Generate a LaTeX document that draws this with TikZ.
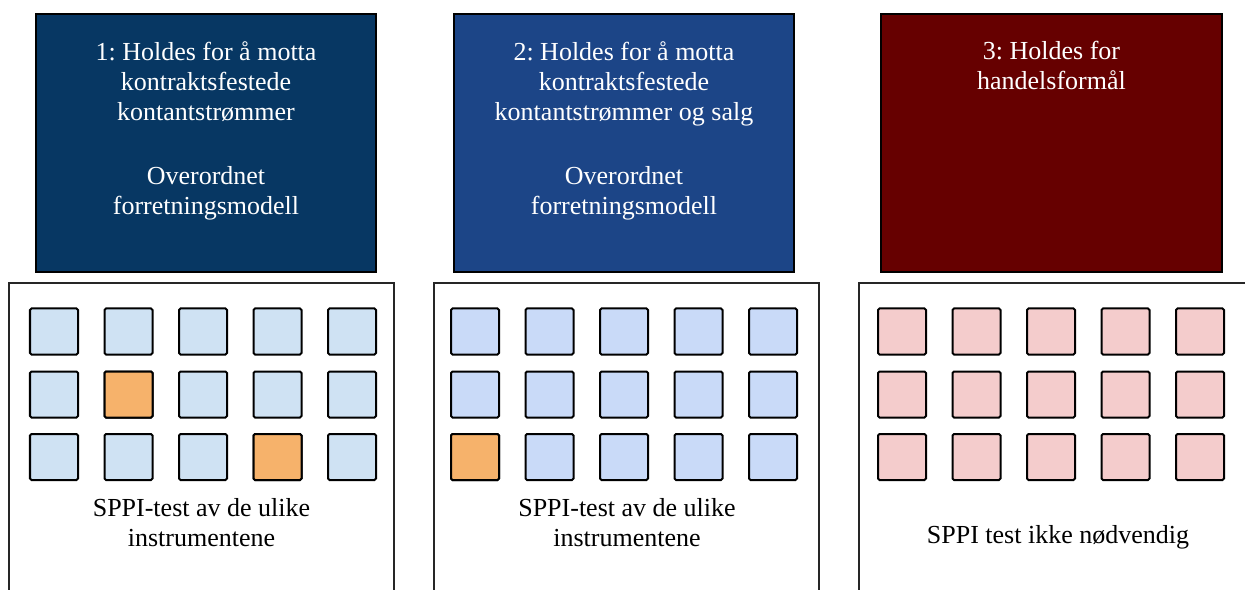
\documentclass[tikz,border=0pt]{standalone}
\usepackage{fontspec}
\setmainfont{Liberation Serif}
\frenchspacing
\definecolor{navyA}{HTML}{073763}
\definecolor{navyB}{HTML}{1C4587}
\definecolor{berry}{HTML}{660000}
\definecolor{paleA}{HTML}{CFE2F3}
\definecolor{paleB}{HTML}{C9DAF8}
\definecolor{paleC}{HTML}{F4CCCC}
\definecolor{flag}{HTML}{F6B26B}
\tikzset{
  headbox/.style={draw=black, line width=1.2bp},
  panelbox/.style={draw=black!85, line width=1.4bp, fill=white},
  headtext/.style={text=white, align=center, anchor=north, inner sep=0pt,
    font=\fontsize{26bp}{30bp}\selectfont},
  paneltext/.style={text=black, align=center, anchor=north, inner sep=0pt,
    font=\fontsize{26bp}{30bp}\selectfont},
  cell/.style={draw=black, line width=2bp, rounded corners=1.5bp,
    minimum width=48bp, minimum height=46bp, inner sep=0pt},
}
\begin{document}
\begin{tikzpicture}[x=1bp, y=-1bp]
\useasboundingbox (0,0) rectangle (1245,590);
\clip (0,0) rectangle (1245,590);

% business model headers
\draw[headbox, fill=navyA] (36,14) rectangle (376,272);
\draw[headbox, fill=navyB] (454,14) rectangle (794,272);
\draw[headbox, fill=berry] (881,14) rectangle (1222,272);

\node[headtext] (h1) at (206,41) {1: Holdes for å motta\\kontraktsfestede\\kontantstrømmer\\[34bp]Overordnet\\forretningsmodell};
\node[headtext] (h2) at (624,41) {2: Holdes for å motta\\kontraktsfestede\\kontantstrømmer og salg\\[34bp]Overordnet\\forretningsmodell};
\node[headtext] (h3) at (1051.5,41) {3: Holdes for\\handelsformål};

% instrument panels
\draw[panelbox] (9,283) rectangle (394,600);
\draw[panelbox] (434,283) rectangle (819,600);
\draw[panelbox] (859,283) rectangle (1260,600);

% instrument grids
\foreach \c [count=\i] in {54,128.5,203,277.5,352}
  \foreach \r [count=\j] in {331.5,394.5,457}
    \node[cell, fill=paleA] (a\j\i) at (\c,\r) {};
\foreach \c [count=\i] in {475,549.5,624,698.5,773}
  \foreach \r [count=\j] in {331.5,394.5,457}
    \node[cell, fill=paleB] (b\j\i) at (\c,\r) {};
\foreach \c [count=\i] in {902,976.5,1051,1125.5,1200}
  \foreach \r [count=\j] in {331.5,394.5,457}
    \node[cell, fill=paleC] (c\j\i) at (\c,\r) {};

% instruments failing the SPPI test
\node[cell, fill=flag] at (a22) {};
\node[cell, fill=flag] at (a34) {};
\node[cell, fill=flag] at (b31) {};

\node[paneltext] (t1) at (201.5,498) {SPPI-test av de ulike\\instrumentene};
\node[paneltext] (t2) at (627,498) {SPPI-test av de ulike\\instrumentene};
\node[paneltext] (t3) at (1058,525) {SPPI test ikke nødvendig};
\end{tikzpicture}
\end{document}
